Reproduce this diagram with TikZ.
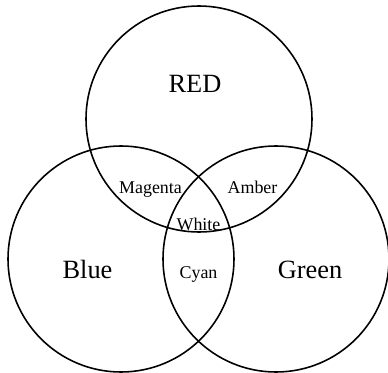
\documentclass[tikz,border=0pt]{standalone}
\usepackage{fontspec}
\setmainfont{Liberation Serif}
\usepackage{tikz}

\begin{document}
\begin{tikzpicture}[
        setcircle/.style={
            circle,
            draw=black,
            line width=0.9pt,
            minimum size=4.52cm,
            inner sep=0pt
        },
        biglabel/.style={anchor=base, inner sep=0pt, font=\fontsize{15}{18}\selectfont},
        smalllabel/.style={anchor=base, inner sep=0pt, font=\fontsize{10.2}{12}\selectfont}
    ]
        \useasboundingbox (0,0) rectangle (7.76,7.44);

        % the three sets
        \node[setcircle] (red) at (3.98,5.06) {};
        \node[setcircle] (blue) at (2.42,2.26) {};
        \node[setcircle] (green) at (5.52,2.26) {};

        % single colours
        \node[biglabel] (redlabel) at (3.90,5.60) {RED};
        \node[biglabel] (bluelabel) at (1.75,1.88) {Blue};
        \node[biglabel] (greenlabel) at (6.20,1.88) {Green};

        % overlaps
        \node[smalllabel] (magenta) at (3.01,3.56) {Magenta};
        \node[smalllabel] (amber) at (5.05,3.56) {Amber};
        \node[smalllabel] (white) at (3.97,2.84) {White};
        \node[smalllabel] (cyan) at (3.97,1.88) {Cyan};
    \end{tikzpicture}
\end{document}
